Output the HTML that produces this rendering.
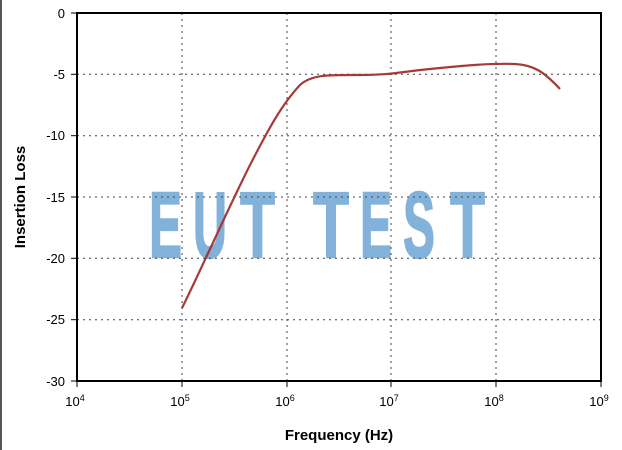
<!DOCTYPE html>
<html><head><meta charset="utf-8"><style>
html,body{margin:0;padding:0;background:#fff;}
svg{display:block;font-family:"Liberation Sans",Arial,sans-serif;}
</style></head><body>
<svg width="622" height="450" viewBox="0 0 622 450">
<rect x="0" y="0" width="622" height="450" fill="#fff"/>
<rect x="0" y="0" width="2" height="450" fill="#555"/>
<g font-size="93" font-weight="bold" fill="#82b2da" stroke="#82b2da" stroke-width="2.5" stroke-linejoin="miter">
<text x="149.2" y="257" textLength="32.5" lengthAdjust="spacingAndGlyphs">E</text>
<text x="193.2" y="257" textLength="33.5" lengthAdjust="spacingAndGlyphs">U</text>
<text x="240.2" y="257" textLength="34.5" lengthAdjust="spacingAndGlyphs">T</text>
<text x="313.2" y="257" textLength="35.5" lengthAdjust="spacingAndGlyphs">T</text>
<text x="360.2" y="257" textLength="31.5" lengthAdjust="spacingAndGlyphs">E</text>
<text x="403.2" y="257" textLength="31.5" lengthAdjust="spacingAndGlyphs">S</text>
<text x="450.2" y="257" textLength="34.5" lengthAdjust="spacingAndGlyphs">T</text>
</g>
<g stroke="#444" stroke-width="1" stroke-dasharray="2,4">
<line x1="182" y1="13" x2="182" y2="381"/>
<line x1="287" y1="13" x2="287" y2="381"/>
<line x1="391" y1="13" x2="391" y2="381"/>
<line x1="496" y1="13" x2="496" y2="381"/>
<line x1="77" y1="74.3" x2="601" y2="74.3"/>
<line x1="77" y1="135.7" x2="601" y2="135.7"/>
<line x1="77" y1="197" x2="601" y2="197"/>
<line x1="77" y1="258.3" x2="601" y2="258.3"/>
<line x1="77" y1="319.7" x2="601" y2="319.7"/>
</g>
<path d="M182,308 C200,272 225,215 250,165 C268,130 282,104 300,85 C312,74 330,75 360,75 C390,75 400,72 430,69 C460,66 490,63 515,64 C535,65 545,73 560,89" fill="none" stroke="#a0302e" stroke-width="2.2" opacity="0.95"/>
<rect x="77" y="13" width="524" height="368" fill="none" stroke="#000" stroke-width="2"/>
<g stroke="#000" stroke-width="1">
<line x1="71" y1="13" x2="77" y2="13"/><line x1="71" y1="74.3" x2="77" y2="74.3"/><line x1="71" y1="135.7" x2="77" y2="135.7"/><line x1="71" y1="197" x2="77" y2="197"/><line x1="71" y1="258.3" x2="77" y2="258.3"/><line x1="71" y1="319.7" x2="77" y2="319.7"/><line x1="71" y1="381" x2="77" y2="381"/>
<line x1="77" y1="381" x2="77" y2="387"/><line x1="182" y1="381" x2="182" y2="387"/><line x1="287" y1="381" x2="287" y2="387"/><line x1="391" y1="381" x2="391" y2="387"/><line x1="496" y1="381" x2="496" y2="387"/><line x1="601" y1="381" x2="601" y2="387"/>
</g>
<g font-size="13" text-anchor="end" fill="#000">
<text x="65" y="18">0</text><text x="65" y="79">-5</text><text x="65" y="140">-10</text><text x="65" y="202">-15</text><text x="65" y="263">-20</text><text x="65" y="324">-25</text><text x="65" y="386">-30</text>
</g>
<g font-size="13" text-anchor="middle" fill="#000">
<text x="75" y="406">10<tspan font-size="9" dy="-5">4</tspan></text>
<text x="180" y="406">10<tspan font-size="9" dy="-5">5</tspan></text>
<text x="285" y="406">10<tspan font-size="9" dy="-5">6</tspan></text>
<text x="389" y="406">10<tspan font-size="9" dy="-5">7</tspan></text>
<text x="494" y="406">10<tspan font-size="9" dy="-5">8</tspan></text>
<text x="599" y="406">10<tspan font-size="9" dy="-5">9</tspan></text>
</g>
<text x="339" y="440" font-size="15" font-weight="bold" text-anchor="middle">Frequency (Hz)</text>
<text transform="translate(25,197) rotate(-90)" font-size="15" font-weight="bold" text-anchor="middle">Insertion Loss</text>
</svg>
</body></html>
